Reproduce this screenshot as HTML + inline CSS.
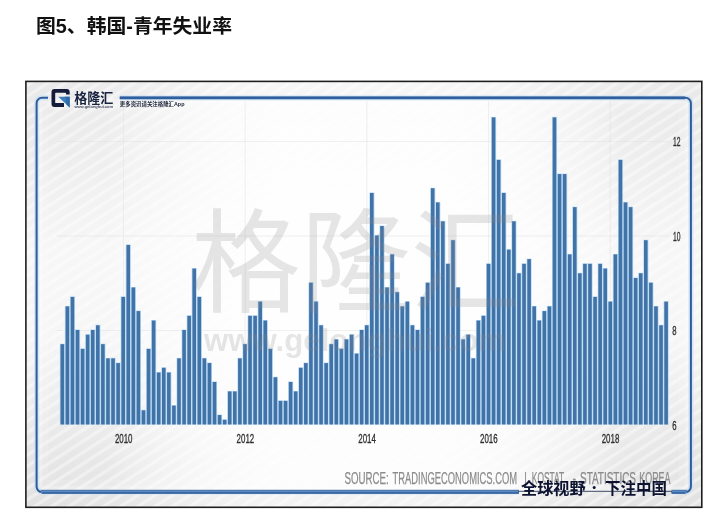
<!DOCTYPE html>
<html lang="zh"><head><meta charset="utf-8"><title>图5、韩国-青年失业率</title>
<style>
html,body{margin:0;padding:0;background:#fff;}
body{width:720px;height:513px;overflow:hidden;position:relative;font-family:"Liberation Sans",sans-serif;}
svg{position:absolute;left:0;top:0;display:block;will-change:transform;}
text{font-family:"Liberation Sans",sans-serif;}
text.cjk{font-family:"Liberation Sans","Noto Sans CJK SC",sans-serif;}
</style></head><body>
<svg width="720" height="513" viewBox="0 0 720 513" role="img" aria-label="图5、韩国-青年失业率 South Korea youth unemployment rate">
<defs>
<pattern id="hatch" width="9.4" height="9.4" patternUnits="userSpaceOnUse" patternTransform="rotate(-33)">
<rect x="0" y="0" width="9.4" height="3.3" fill="#fff" fill-opacity="0.4"/>
</pattern>
<linearGradient id="fade" x1="0" x2="1" y1="0" y2="0">
<stop offset="0" stop-color="#fff" stop-opacity="0"/>
<stop offset="0.1" stop-color="#fff" stop-opacity="0"/>
<stop offset="0.25" stop-color="#fff" stop-opacity="0.5"/>
<stop offset="0.37" stop-color="#fff" stop-opacity="0.78"/>
<stop offset="0.63" stop-color="#fff" stop-opacity="0.78"/>
<stop offset="0.75" stop-color="#fff" stop-opacity="0.5"/>
<stop offset="0.9" stop-color="#fff" stop-opacity="0"/>
<stop offset="1" stop-color="#fff" stop-opacity="0"/>
</linearGradient>
<radialGradient id="fade0" gradientUnits="userSpaceOnUse" cx="365" cy="295" r="370">
<stop offset="0" stop-color="#fff" stop-opacity="0.72"/>
<stop offset="0.6" stop-color="#fff" stop-opacity="0.72"/>
<stop offset="1" stop-color="#fff" stop-opacity="0"/>
</radialGradient>
<linearGradient id="fx" x1="0" x2="1" y1="0" y2="0">
<stop offset="0" stop-color="#fff" stop-opacity="0"/>
<stop offset="0.12" stop-color="#fff" stop-opacity="0.1"/>
<stop offset="0.3" stop-color="#fff" stop-opacity="0.55"/>
<stop offset="0.4" stop-color="#fff" stop-opacity="0.6"/>
<stop offset="0.6" stop-color="#fff" stop-opacity="0.6"/>
<stop offset="0.7" stop-color="#fff" stop-opacity="0.55"/>
<stop offset="0.88" stop-color="#fff" stop-opacity="0.1"/>
<stop offset="1" stop-color="#fff" stop-opacity="0"/>
</linearGradient>
<linearGradient id="fy" x1="0" x2="0" y1="0" y2="1">
<stop offset="0" stop-color="#fff" stop-opacity="0"/>
<stop offset="0.1" stop-color="#fff" stop-opacity="0.08"/>
<stop offset="0.2" stop-color="#fff" stop-opacity="0.25"/>
<stop offset="0.4" stop-color="#fff" stop-opacity="0.65"/>
<stop offset="0.6" stop-color="#fff" stop-opacity="0.65"/>
<stop offset="0.8" stop-color="#fff" stop-opacity="0.25"/>
<stop offset="0.9" stop-color="#fff" stop-opacity="0.08"/>
<stop offset="1" stop-color="#fff" stop-opacity="0"/>
</linearGradient>
<linearGradient id="baseg" x1="0" x2="0" y1="0" y2="1">
<stop offset="0" stop-color="#e9e9e9"/><stop offset="1" stop-color="#e2e2e2"/>
</linearGradient>
<linearGradient id="barg" x1="0" x2="0" y1="0" y2="1">
<stop offset="0" stop-color="#356a9f"/><stop offset="1" stop-color="#3f7ab4"/>
</linearGradient>
</defs>
<!-- title -->
<text class="cjk" x="36" y="33" font-size="19.5" font-weight="bold" fill="#111" textLength="196" lengthAdjust="spacingAndGlyphs">图5、韩国-青年失业率</text>
<!-- chart panel -->
<rect x="25.5" y="81" width="676.5" height="426" fill="url(#baseg)"/>
<rect x="25.5" y="81" width="676.5" height="426" fill="url(#hatch)"/>
<rect x="25.5" y="81" width="676.5" height="426" fill="url(#fx)"/>
<rect x="25.5" y="81" width="676.5" height="426" fill="url(#fy)"/>
<rect x="36.6" y="97.8" width="653.9" height="394.2" rx="6.2" ry="6.2" fill="url(#fade)"/>
<rect x="25.9" y="81.4" width="675.9" height="425.9" fill="none" stroke="#1e1e1e" stroke-width="1.6"/>
<rect x="40" y="101.2" width="647.4" height="387.4" rx="3" ry="3" fill="none" stroke="#fff" stroke-width="5" stroke-opacity="0.22"/><rect x="43" y="104.2" width="641.4" height="381.4" rx="3" ry="3" fill="none" stroke="#fff" stroke-width="11" stroke-opacity="0.14"/>
<!-- blue frame -->
<g fill="none" stroke-linecap="butt">
<path d="M48 97.8 H42 A5.4 5.4 0 0 0 36.6 103.2 V486.6 A5.4 5.4 0 0 0 42 492 H519 M671.6 492 H685.5 A5.4 5.4 0 0 0 690.9 486.6 V103.2 A5.4 5.4 0 0 0 685.5 97.8 H119.8" stroke="#c6def5" stroke-width="5.2" stroke-opacity="0.65"/>
<path d="M48 97.8 H42 A5.4 5.4 0 0 0 36.6 103.2 V486.6 A5.4 5.4 0 0 0 42 492 H519 M671.6 492 H685.5 A5.4 5.4 0 0 0 690.9 486.6 V103.2 A5.4 5.4 0 0 0 685.5 97.8 H119.8" stroke="#2e5c9a" stroke-width="2.0"/>
</g>
<g fill="none"><path d="M41 491.8 H519 M671.6 491.8 H686.5" stroke="#5b8bc6" stroke-width="3.4"/><path d="M42 493 H519 M671.6 493 H685.5" stroke="#2e5c9a" stroke-width="1.4"/><path d="M40.5 490.3 H519 M671.6 490.3 H687" stroke="#4a6f9c" stroke-width="0.8"/></g>
<path d="M119.8 97.9 H685" stroke="#2f5f9f" stroke-width="2.6" fill="none"/>
<!-- grid -->
<g stroke="#e2e2e2" stroke-width="1" stroke-opacity="0.5"><line x1="57" x2="670" y1="330.5" y2="330.5"/><line x1="57" x2="670" y1="236.0" y2="236.0"/><line x1="57" x2="670" y1="141.5" y2="141.5"/><line x1="123.5" x2="123.5" y1="101" y2="424"/><line x1="245.2" x2="245.2" y1="101" y2="424"/><line x1="366.9" x2="366.9" y1="101" y2="424"/><line x1="488.6" x2="488.6" y1="101" y2="424"/><line x1="610.3" x2="610.3" y1="101" y2="424"/></g>
<!-- bars -->
<g fill="#a9d2f6" fill-opacity="0.8"><rect x="59.80" y="343.68" width="5.07" height="80.82"/><rect x="64.87" y="305.88" width="5.07" height="118.62"/><rect x="69.95" y="296.43" width="5.07" height="128.07"/><rect x="75.02" y="329.50" width="5.07" height="95.00"/><rect x="80.10" y="348.40" width="5.07" height="76.10"/><rect x="85.17" y="334.22" width="5.07" height="90.28"/><rect x="90.24" y="329.50" width="5.07" height="95.00"/><rect x="95.32" y="324.78" width="5.07" height="99.72"/><rect x="100.39" y="343.68" width="5.07" height="80.82"/><rect x="105.47" y="357.85" width="5.07" height="66.65"/><rect x="110.54" y="357.85" width="5.07" height="66.65"/><rect x="115.61" y="362.57" width="5.07" height="61.93"/><rect x="120.69" y="296.43" width="5.07" height="128.07"/><rect x="125.76" y="244.45" width="5.07" height="180.05"/><rect x="130.84" y="286.98" width="5.07" height="137.52"/><rect x="135.91" y="310.60" width="5.07" height="113.90"/><rect x="140.98" y="409.82" width="5.07" height="14.68"/><rect x="146.06" y="348.40" width="5.07" height="76.10"/><rect x="151.13" y="320.05" width="5.07" height="104.45"/><rect x="156.21" y="372.03" width="5.07" height="52.47"/><rect x="161.28" y="367.30" width="5.07" height="57.20"/><rect x="166.35" y="372.03" width="5.07" height="52.47"/><rect x="171.43" y="405.10" width="5.07" height="19.40"/><rect x="176.50" y="357.85" width="5.07" height="66.65"/><rect x="181.58" y="329.50" width="5.07" height="95.00"/><rect x="186.65" y="315.32" width="5.07" height="109.18"/><rect x="191.72" y="268.07" width="5.07" height="156.43"/><rect x="196.80" y="296.43" width="5.07" height="128.07"/><rect x="201.87" y="357.85" width="5.07" height="66.65"/><rect x="206.95" y="362.57" width="5.07" height="61.93"/><rect x="212.02" y="381.47" width="5.07" height="43.03"/><rect x="217.09" y="414.55" width="5.07" height="9.95"/><rect x="222.17" y="419.28" width="5.07" height="5.22"/><rect x="227.24" y="390.93" width="5.07" height="33.57"/><rect x="232.32" y="390.93" width="5.07" height="33.57"/><rect x="237.39" y="357.85" width="5.07" height="66.65"/><rect x="242.46" y="343.68" width="5.07" height="80.82"/><rect x="247.54" y="315.32" width="5.07" height="109.18"/><rect x="252.61" y="315.32" width="5.07" height="109.18"/><rect x="257.69" y="301.15" width="5.07" height="123.35"/><rect x="262.76" y="320.05" width="5.07" height="104.45"/><rect x="267.83" y="348.40" width="5.07" height="76.10"/><rect x="272.91" y="376.75" width="5.07" height="47.75"/><rect x="277.98" y="400.38" width="5.07" height="24.12"/><rect x="283.06" y="400.38" width="5.07" height="24.12"/><rect x="288.13" y="381.47" width="5.07" height="43.03"/><rect x="293.20" y="390.93" width="5.07" height="33.57"/><rect x="298.28" y="367.30" width="5.07" height="57.20"/><rect x="303.35" y="362.57" width="5.07" height="61.93"/><rect x="308.43" y="282.25" width="5.07" height="142.25"/><rect x="313.50" y="301.15" width="5.07" height="123.35"/><rect x="318.57" y="324.78" width="5.07" height="99.72"/><rect x="323.65" y="362.57" width="5.07" height="61.93"/><rect x="328.72" y="343.68" width="5.07" height="80.82"/><rect x="333.80" y="338.95" width="5.07" height="85.55"/><rect x="338.87" y="348.40" width="5.07" height="76.10"/><rect x="343.94" y="338.95" width="5.07" height="85.55"/><rect x="349.02" y="334.22" width="5.07" height="90.28"/><rect x="354.09" y="353.12" width="5.07" height="71.38"/><rect x="359.17" y="329.50" width="5.07" height="95.00"/><rect x="364.24" y="324.78" width="5.07" height="99.72"/><rect x="369.31" y="192.47" width="5.07" height="232.03"/><rect x="374.39" y="235.00" width="5.07" height="189.50"/><rect x="379.46" y="225.55" width="5.07" height="198.95"/><rect x="384.54" y="286.98" width="5.07" height="137.52"/><rect x="389.61" y="253.90" width="5.07" height="170.60"/><rect x="394.68" y="291.70" width="5.07" height="132.80"/><rect x="399.76" y="305.88" width="5.07" height="118.62"/><rect x="404.83" y="301.15" width="5.07" height="123.35"/><rect x="409.91" y="324.78" width="5.07" height="99.72"/><rect x="414.98" y="329.50" width="5.07" height="95.00"/><rect x="420.05" y="296.43" width="5.07" height="128.07"/><rect x="425.13" y="282.25" width="5.07" height="142.25"/><rect x="430.20" y="187.75" width="5.07" height="236.75"/><rect x="435.28" y="201.93" width="5.07" height="222.57"/><rect x="440.35" y="220.82" width="5.07" height="203.68"/><rect x="445.42" y="263.35" width="5.07" height="161.15"/><rect x="450.50" y="239.72" width="5.07" height="184.78"/><rect x="455.57" y="286.98" width="5.07" height="137.52"/><rect x="460.65" y="338.95" width="5.07" height="85.55"/><rect x="465.72" y="334.22" width="5.07" height="90.28"/><rect x="470.79" y="357.85" width="5.07" height="66.65"/><rect x="475.87" y="320.05" width="5.07" height="104.45"/><rect x="480.94" y="315.32" width="5.07" height="109.18"/><rect x="486.02" y="263.35" width="5.07" height="161.15"/><rect x="491.09" y="116.88" width="5.07" height="307.62"/><rect x="496.16" y="159.40" width="5.07" height="265.10"/><rect x="501.24" y="192.47" width="5.07" height="232.03"/><rect x="506.31" y="249.18" width="5.07" height="175.32"/><rect x="511.39" y="220.82" width="5.07" height="203.68"/><rect x="516.46" y="272.80" width="5.07" height="151.70"/><rect x="521.53" y="263.35" width="5.07" height="161.15"/><rect x="526.61" y="258.62" width="5.07" height="165.88"/><rect x="531.68" y="305.88" width="5.07" height="118.62"/><rect x="536.76" y="320.05" width="5.07" height="104.45"/><rect x="541.83" y="310.60" width="5.07" height="113.90"/><rect x="546.90" y="305.88" width="5.07" height="118.62"/><rect x="551.98" y="116.88" width="5.07" height="307.62"/><rect x="557.05" y="173.57" width="5.07" height="250.93"/><rect x="562.13" y="173.57" width="5.07" height="250.93"/><rect x="567.20" y="253.90" width="5.07" height="170.60"/><rect x="572.27" y="206.65" width="5.07" height="217.85"/><rect x="577.35" y="272.80" width="5.07" height="151.70"/><rect x="582.42" y="263.35" width="5.07" height="161.15"/><rect x="587.50" y="263.35" width="5.07" height="161.15"/><rect x="592.57" y="296.43" width="5.07" height="128.07"/><rect x="597.64" y="263.35" width="5.07" height="161.15"/><rect x="602.72" y="268.07" width="5.07" height="156.43"/><rect x="607.79" y="301.15" width="5.07" height="123.35"/><rect x="612.87" y="253.90" width="5.07" height="170.60"/><rect x="617.94" y="159.40" width="5.07" height="265.10"/><rect x="623.01" y="201.93" width="5.07" height="222.57"/><rect x="628.09" y="206.65" width="5.07" height="217.85"/><rect x="633.16" y="277.52" width="5.07" height="146.98"/><rect x="638.24" y="272.80" width="5.07" height="151.70"/><rect x="643.31" y="239.72" width="5.07" height="184.78"/><rect x="648.38" y="282.25" width="5.07" height="142.25"/><rect x="653.46" y="305.88" width="5.07" height="118.62"/><rect x="658.53" y="324.78" width="5.07" height="99.72"/><rect x="663.61" y="301.15" width="5.07" height="123.35"/></g>
<g fill="#4273a7"><rect x="60.50" y="344.18" width="3.6" height="80.32"/><rect x="65.57" y="306.38" width="3.6" height="118.12"/><rect x="70.65" y="296.93" width="3.6" height="127.57"/><rect x="75.72" y="330.00" width="3.6" height="94.50"/><rect x="80.80" y="348.90" width="3.6" height="75.60"/><rect x="85.87" y="334.72" width="3.6" height="89.78"/><rect x="90.94" y="330.00" width="3.6" height="94.50"/><rect x="96.02" y="325.28" width="3.6" height="99.22"/><rect x="101.09" y="344.18" width="3.6" height="80.32"/><rect x="106.17" y="358.35" width="3.6" height="66.15"/><rect x="111.24" y="358.35" width="3.6" height="66.15"/><rect x="116.31" y="363.07" width="3.6" height="61.43"/><rect x="121.39" y="296.93" width="3.6" height="127.57"/><rect x="126.46" y="244.95" width="3.6" height="179.55"/><rect x="131.54" y="287.48" width="3.6" height="137.02"/><rect x="136.61" y="311.10" width="3.6" height="113.40"/><rect x="141.68" y="410.32" width="3.6" height="14.18"/><rect x="146.76" y="348.90" width="3.6" height="75.60"/><rect x="151.83" y="320.55" width="3.6" height="103.95"/><rect x="156.91" y="372.53" width="3.6" height="51.97"/><rect x="161.98" y="367.80" width="3.6" height="56.70"/><rect x="167.05" y="372.53" width="3.6" height="51.97"/><rect x="172.13" y="405.60" width="3.6" height="18.90"/><rect x="177.20" y="358.35" width="3.6" height="66.15"/><rect x="182.28" y="330.00" width="3.6" height="94.50"/><rect x="187.35" y="315.82" width="3.6" height="108.68"/><rect x="192.42" y="268.57" width="3.6" height="155.93"/><rect x="197.50" y="296.93" width="3.6" height="127.57"/><rect x="202.57" y="358.35" width="3.6" height="66.15"/><rect x="207.65" y="363.07" width="3.6" height="61.43"/><rect x="212.72" y="381.97" width="3.6" height="42.53"/><rect x="217.79" y="415.05" width="3.6" height="9.45"/><rect x="222.87" y="419.78" width="3.6" height="4.72"/><rect x="227.94" y="391.43" width="3.6" height="33.07"/><rect x="233.02" y="391.43" width="3.6" height="33.07"/><rect x="238.09" y="358.35" width="3.6" height="66.15"/><rect x="243.16" y="344.18" width="3.6" height="80.32"/><rect x="248.24" y="315.82" width="3.6" height="108.68"/><rect x="253.31" y="315.82" width="3.6" height="108.68"/><rect x="258.39" y="301.65" width="3.6" height="122.85"/><rect x="263.46" y="320.55" width="3.6" height="103.95"/><rect x="268.53" y="348.90" width="3.6" height="75.60"/><rect x="273.61" y="377.25" width="3.6" height="47.25"/><rect x="278.68" y="400.88" width="3.6" height="23.62"/><rect x="283.76" y="400.88" width="3.6" height="23.62"/><rect x="288.83" y="381.97" width="3.6" height="42.53"/><rect x="293.90" y="391.43" width="3.6" height="33.07"/><rect x="298.98" y="367.80" width="3.6" height="56.70"/><rect x="304.05" y="363.07" width="3.6" height="61.43"/><rect x="309.13" y="282.75" width="3.6" height="141.75"/><rect x="314.20" y="301.65" width="3.6" height="122.85"/><rect x="319.27" y="325.28" width="3.6" height="99.22"/><rect x="324.35" y="363.07" width="3.6" height="61.43"/><rect x="329.42" y="344.18" width="3.6" height="80.32"/><rect x="334.50" y="339.45" width="3.6" height="85.05"/><rect x="339.57" y="348.90" width="3.6" height="75.60"/><rect x="344.64" y="339.45" width="3.6" height="85.05"/><rect x="349.72" y="334.72" width="3.6" height="89.78"/><rect x="354.79" y="353.62" width="3.6" height="70.88"/><rect x="359.87" y="330.00" width="3.6" height="94.50"/><rect x="364.94" y="325.28" width="3.6" height="99.22"/><rect x="370.01" y="192.97" width="3.6" height="231.53"/><rect x="375.09" y="235.50" width="3.6" height="189.00"/><rect x="380.16" y="226.05" width="3.6" height="198.45"/><rect x="385.24" y="287.48" width="3.6" height="137.02"/><rect x="390.31" y="254.40" width="3.6" height="170.10"/><rect x="395.38" y="292.20" width="3.6" height="132.30"/><rect x="400.46" y="306.38" width="3.6" height="118.12"/><rect x="405.53" y="301.65" width="3.6" height="122.85"/><rect x="410.61" y="325.28" width="3.6" height="99.22"/><rect x="415.68" y="330.00" width="3.6" height="94.50"/><rect x="420.75" y="296.93" width="3.6" height="127.57"/><rect x="425.83" y="282.75" width="3.6" height="141.75"/><rect x="430.90" y="188.25" width="3.6" height="236.25"/><rect x="435.98" y="202.43" width="3.6" height="222.07"/><rect x="441.05" y="221.32" width="3.6" height="203.18"/><rect x="446.12" y="263.85" width="3.6" height="160.65"/><rect x="451.20" y="240.22" width="3.6" height="184.28"/><rect x="456.27" y="287.48" width="3.6" height="137.02"/><rect x="461.35" y="339.45" width="3.6" height="85.05"/><rect x="466.42" y="334.72" width="3.6" height="89.78"/><rect x="471.49" y="358.35" width="3.6" height="66.15"/><rect x="476.57" y="320.55" width="3.6" height="103.95"/><rect x="481.64" y="315.82" width="3.6" height="108.68"/><rect x="486.72" y="263.85" width="3.6" height="160.65"/><rect x="491.79" y="117.38" width="3.6" height="307.12"/><rect x="496.86" y="159.90" width="3.6" height="264.60"/><rect x="501.94" y="192.97" width="3.6" height="231.53"/><rect x="507.01" y="249.68" width="3.6" height="174.82"/><rect x="512.09" y="221.32" width="3.6" height="203.18"/><rect x="517.16" y="273.30" width="3.6" height="151.20"/><rect x="522.23" y="263.85" width="3.6" height="160.65"/><rect x="527.31" y="259.12" width="3.6" height="165.38"/><rect x="532.38" y="306.38" width="3.6" height="118.12"/><rect x="537.46" y="320.55" width="3.6" height="103.95"/><rect x="542.53" y="311.10" width="3.6" height="113.40"/><rect x="547.60" y="306.38" width="3.6" height="118.12"/><rect x="552.68" y="117.38" width="3.6" height="307.12"/><rect x="557.75" y="174.07" width="3.6" height="250.43"/><rect x="562.83" y="174.07" width="3.6" height="250.43"/><rect x="567.90" y="254.40" width="3.6" height="170.10"/><rect x="572.97" y="207.15" width="3.6" height="217.35"/><rect x="578.05" y="273.30" width="3.6" height="151.20"/><rect x="583.12" y="263.85" width="3.6" height="160.65"/><rect x="588.20" y="263.85" width="3.6" height="160.65"/><rect x="593.27" y="296.93" width="3.6" height="127.57"/><rect x="598.34" y="263.85" width="3.6" height="160.65"/><rect x="603.42" y="268.57" width="3.6" height="155.93"/><rect x="608.49" y="301.65" width="3.6" height="122.85"/><rect x="613.57" y="254.40" width="3.6" height="170.10"/><rect x="618.64" y="159.90" width="3.6" height="264.60"/><rect x="623.71" y="202.43" width="3.6" height="222.07"/><rect x="628.79" y="207.15" width="3.6" height="217.35"/><rect x="633.86" y="278.02" width="3.6" height="146.48"/><rect x="638.94" y="273.30" width="3.6" height="151.20"/><rect x="644.01" y="240.22" width="3.6" height="184.28"/><rect x="649.08" y="282.75" width="3.6" height="141.75"/><rect x="654.16" y="306.38" width="3.6" height="118.12"/><rect x="659.23" y="325.28" width="3.6" height="99.22"/><rect x="664.31" y="301.65" width="3.6" height="122.85"/></g>
<!-- watermark -->
<text class="cjk" x="191" y="303" font-size="113" fill="#878787" fill-opacity="0.21" textLength="329" lengthAdjust="spacingAndGlyphs">格隆汇</text>
<text x="204" y="351" font-size="31" font-weight="bold" fill="#878787" fill-opacity="0.21" textLength="302" lengthAdjust="spacingAndGlyphs">www.gelonghui.com</text>
<!-- axis labels -->
<g font-size="13" fill="#303030" stroke="#303030" stroke-width="0.35"><text x="123.7" y="442.8" text-anchor="middle" textLength="17.6" lengthAdjust="spacingAndGlyphs">2010</text><text x="245.4" y="442.8" text-anchor="middle" textLength="17.6" lengthAdjust="spacingAndGlyphs">2012</text><text x="367.1" y="442.8" text-anchor="middle" textLength="17.6" lengthAdjust="spacingAndGlyphs">2014</text><text x="488.8" y="442.8" text-anchor="middle" textLength="17.6" lengthAdjust="spacingAndGlyphs">2016</text><text x="610.5" y="442.8" text-anchor="middle" textLength="17.6" lengthAdjust="spacingAndGlyphs">2018</text><text x="672.3" y="429.8" textLength="4.3" lengthAdjust="spacingAndGlyphs">6</text><text x="672.3" y="335.3" textLength="4.3" lengthAdjust="spacingAndGlyphs">8</text><text x="672.9" y="240.8" textLength="7.5" lengthAdjust="spacingAndGlyphs">10</text><text x="672.9" y="146.3" textLength="7.5" lengthAdjust="spacingAndGlyphs">12</text></g>
<!-- logo -->
<g>
<path d="M69.7 94.6 V91.9 Q69.7 88.9 66.7 88.9 H54.5 Q51.5 88.9 51.5 91.9 V103.9 Q51.5 106.9 54.5 106.9 H64 V103.1 H55.9 Q55.2 103.1 55.2 102.4 V93.4 Q55.2 92.7 55.9 92.7 H65.3 Q66 92.7 66 93.4 V94.6 Z" fill="#151b3a"/>
<path d="M58.3 96.8 H69.7 V107.6 Z" fill="#3b7cbc"/>
<path d="M64.5 96.8 H69.7 V107.6 L66.4 104.4 V98.6 Z" fill="#2f68a8"/>
<text class="cjk" x="74.2" y="102.8" font-size="13.2" font-weight="bold" fill="#19233f" textLength="39.1" lengthAdjust="spacingAndGlyphs">格隆汇</text>
<text x="74.4" y="107.6" font-size="3.3" font-weight="bold" fill="#454c63" textLength="38.7" lengthAdjust="spacingAndGlyphs">www.gelonghui.com</text>
<text class="cjk" x="119.8" y="106.2" font-size="5.4" font-weight="bold" fill="#1d2438" textLength="64.7" lengthAdjust="spacingAndGlyphs">更多资讯请关注格隆汇App</text>
</g>
<!-- source -->
<g font-size="15.7" fill="#8b8b8b" stroke="#8b8b8b" stroke-width="0.25" lengthAdjust="spacingAndGlyphs">
<text x="344.5" y="484.4" textLength="44.2" lengthAdjust="spacingAndGlyphs">SOURCE:</text>
<text x="392.5" y="484.4" textLength="124.6" lengthAdjust="spacingAndGlyphs">TRADINGECONOMICS.COM</text>
<text x="524.2" y="484.4" textLength="2.6" lengthAdjust="spacingAndGlyphs">|</text>
<text x="531.8" y="484.4" textLength="32.4" lengthAdjust="spacingAndGlyphs">KOSTAT</text>
<text x="572.6" y="484.4" textLength="3.6" lengthAdjust="spacingAndGlyphs">-</text>
<text x="580" y="484.4" textLength="56" lengthAdjust="spacingAndGlyphs">STATISTICS</text>
<text x="639.3" y="484.4" textLength="31.2" lengthAdjust="spacingAndGlyphs">KOREA</text>
</g>
<line x1="518" x2="672" y1="491.3" y2="491.3" stroke="#3c4a66" stroke-width="1"/>
<!-- bottom-right slogan -->
<text class="cjk" x="521" y="494" font-size="16" font-weight="bold" fill="#0c1230" textLength="64.6" lengthAdjust="spacingAndGlyphs">全球视野</text>
<circle cx="594.2" cy="487.4" r="1.5" fill="#0c1230"/>
<text class="cjk" x="604.9" y="494" font-size="16" font-weight="bold" fill="#0c1230" textLength="62" lengthAdjust="spacingAndGlyphs">下注中国</text>
</svg>
</body></html>
